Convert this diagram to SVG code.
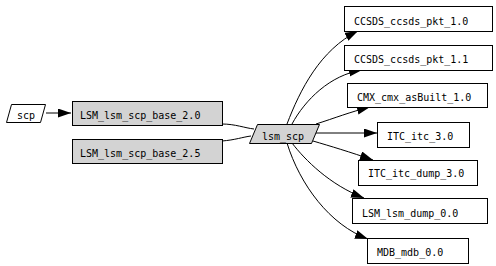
<svg xmlns="http://www.w3.org/2000/svg" width="496" height="266" viewBox="0 0 496 266">
<defs>
<marker id="ah" markerUnits="userSpaceOnUse" markerWidth="14" markerHeight="10" refX="13" refY="4.5" orient="auto">
<path d="M0,0 L13,4.5 L0,9 z" fill="#000"/>
</marker>
<style>
.n{fill:#fff;stroke:#000;stroke-width:1}
.g{fill:#d3d3d3;stroke:#000;stroke-width:1}
text{font-family:"DejaVu Sans Mono","Liberation Mono",monospace;font-size:10px;fill:#000}
.e{fill:none;stroke:#000;stroke-width:1}
.a{marker-end:url(#ah)}
</style>
</defs>
<rect width="496" height="266" fill="#fff"/>
<g id="connectors">
<path class="e a" d="M46,113 L71,113"/>
<path class="e" d="M222,124 C235,124 245,128 254,129"/>
<path class="e" d="M222,141 C235,140 243,137 251,136"/>
<path class="e a" d="M287,124 C300,90 320,50 358,31"/>
<path class="e a" d="M292,124 C305,100 330,75 362,70"/>
<path class="e a" d="M316,124 C335,118 350,112 370,107"/>
<path class="e a" d="M315,133 L377,133"/>
<path class="e a" d="M313,141 C330,146 350,152 373,160"/>
<path class="e a" d="M292,143 C305,160 330,185 364,198"/>
<path class="e a" d="M287,143 C300,185 330,225 368,239"/>
</g>
<g id="scp"><polygon class="n" points="11.5,104.5 45.5,104.5 40.5,122.5 6.5,122.5"/><text x="17" y="119">scp</text></g>
<g id="LSM_lsm_scp_base_2.0"><rect class="g" x="72.5" y="101.5" width="150" height="24"/><text x="80" y="119">LSM_lsm_scp_base_2.0</text></g>
<g id="LSM_lsm_scp_base_2.5"><rect class="g" x="72.5" y="139.5" width="150" height="24"/><text x="80" y="157">LSM_lsm_scp_base_2.5</text></g>
<g id="lsm_scp"><polygon class="g" points="257.5,124.5 319.5,124.5 311.5,143.5 249.5,143.5"/><text x="262" y="140">lsm_scp</text></g>
<g id="CCSDS_ccsds_pkt_1.0"><rect class="n" x="344.5" y="6.5" width="148" height="25"/><text x="354" y="25">CCSDS_ccsds_pkt_1.0</text></g>
<g id="CCSDS_ccsds_pkt_1.1"><rect class="n" x="344.5" y="45.5" width="148" height="25"/><text x="354" y="63">CCSDS_ccsds_pkt_1.1</text></g>
<g id="CMX_cmx_asBuilt_1.0"><rect class="n" x="347.5" y="83.5" width="140" height="24"/><text x="357" y="101">CMX_cmx_asBuilt_1.0</text></g>
<g id="ITC_itc_3.0"><rect class="n" x="377.5" y="122.5" width="92" height="25"/><text x="387" y="140">ITC_itc_3.0</text></g>
<g id="ITC_itc_dump_3.0"><rect class="n" x="358.5" y="160.5" width="119" height="25"/><text x="368" y="177">ITC_itc_dump_3.0</text></g>
<g id="LSM_lsm_dump_0.0"><rect class="n" x="352.5" y="198.5" width="135" height="25"/><text x="362" y="217">LSM_lsm_dump_0.0</text></g>
<g id="MDB_mdb_0.0"><rect class="n" x="367.5" y="238.5" width="101" height="25"/><text x="377" y="256">MDB_mdb_0.0</text></g>
</svg>
